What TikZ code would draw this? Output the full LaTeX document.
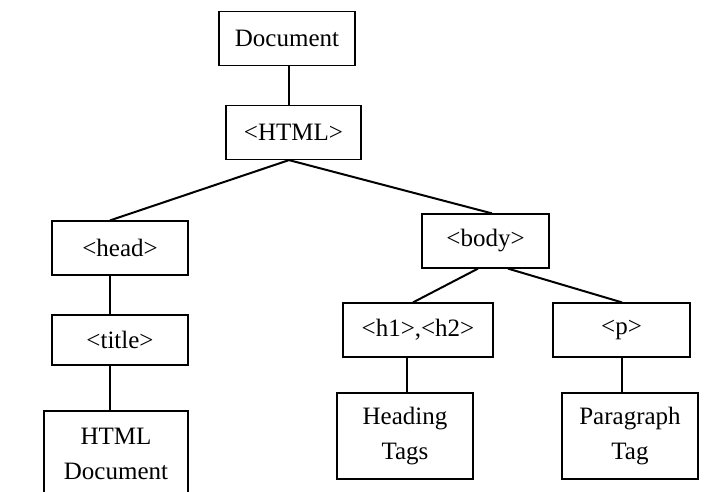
\documentclass[tikz,border=0pt]{standalone}
\usepackage{fontspec}
\setmainfont{Liberation Serif}
\usepackage{tikz}
\usetikzlibrary{calc}

\tikzset{
  tagbox/.style={draw, line width=1.2pt, minimum width=136pt, minimum height=54pt,
    inner sep=0pt, align=center, font=\fontsize{25}{35}\selectfont},
  link/.style={line width=2pt}
}

\begin{document}
\begin{tikzpicture}[x=1pt, y=-1pt]
            \clip (0,0) rectangle (712,491);
            \fill[white] (0,0) rectangle (712,491);

            % Top level
            \node[tagbox] (doc) at (287,38.5) {Document};
            \node[tagbox, minimum width=135pt] (html) at (293.5,132.5) {<HTML>};

            % Head branch
            \node[tagbox] (head) at (120,248) {<head>};
            \node[tagbox, minimum height=50pt] (title) at (120,340) {<title>};
            \node[tagbox, minimum width=144pt, minimum height=86pt] (hdoc) at (116,454) {HTML\\Document};

            % Body branch
            \node[tagbox, minimum width=127pt] (body) at (485.5,241) {<body>};
            \node[tagbox, minimum width=150pt] (hone) at (418,330) {<h1>,<h2>};
            \node[tagbox, minimum width=137pt] (para) at (621.5,330) {<p>};
            \node[tagbox, minimum height=86pt] (heading) at (405,436) {Heading\\Tags};
            \node[tagbox, minimum height=86pt] (paratag) at (630,436) {Paragraph\\Tag};

            % Connectors
            \draw[link] ([xshift=2pt]doc.south) -- ([xshift=-4.5pt]html.north);
            \draw[link] ([xshift=-4.5pt]html.south) -- ([xshift=-10pt]head.north);
            \draw[link] ([xshift=-4.5pt]html.south) -- ([xshift=6.5pt]body.north);
            \draw[link] ([xshift=-10pt]head.south) -- ([xshift=-10pt]title.north);
            \draw[link] ([xshift=-10pt]title.south) -- ([xshift=-6pt]hdoc.north);
            \draw[link] ([xshift=-7.5pt]body.south) -- ([xshift=-5pt]hone.north);
            \draw[link] ([xshift=22.5pt]body.south) -- ([xshift=0.5pt]para.north);
            \draw[link] ([xshift=-11pt]hone.south) -- ([xshift=2pt]heading.north);
            \draw[link] ([xshift=0.5pt]para.south) -- ([xshift=-8pt]paratag.north);
        \end{tikzpicture}
\end{document}
